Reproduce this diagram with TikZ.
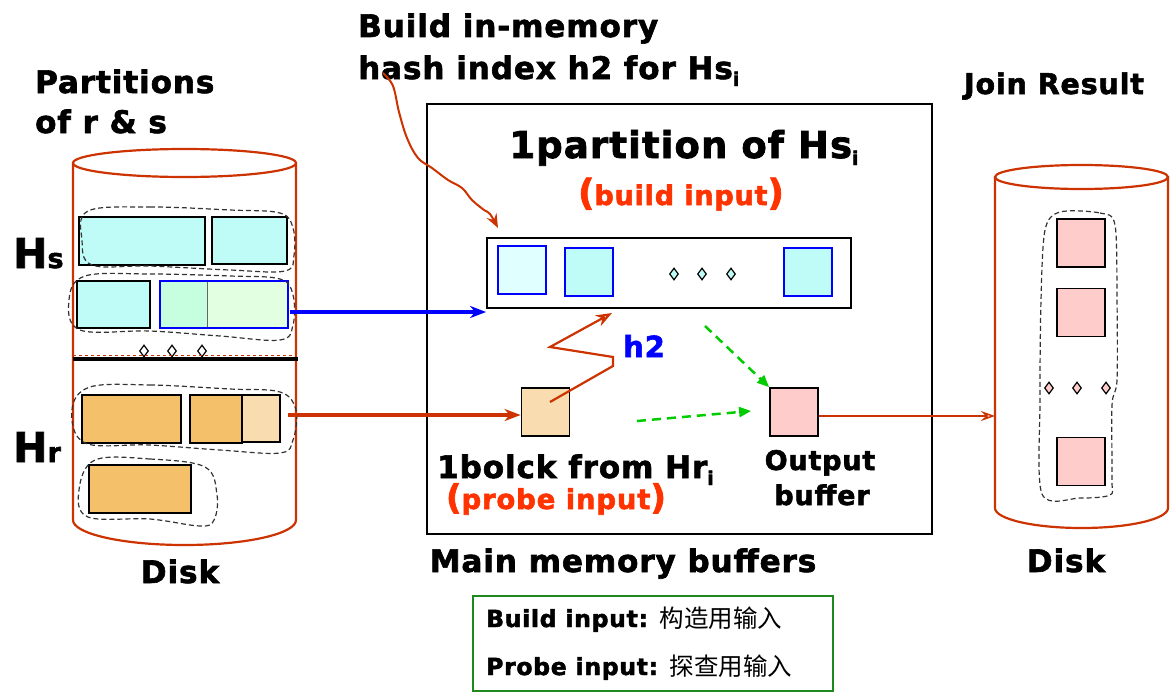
\documentclass[tikz,border=0pt]{standalone}
\usepackage{fontspec}
\setmainfont{DejaVu Sans}
\newfontfamily\tf{DejaVu Sans Bold}[LetterSpace=3,FakeBold=2]
\newfontfamily\cjk{Noto Sans CJK SC}
\usetikzlibrary{arrows.meta,shapes.geometric}
\newcommand\fsz[1]{\fontsize{#1}{#1}\selectfont}
\definecolor{cy}{HTML}{BFFCF7}
\definecolor{lcy}{HTML}{E0FFFF}
\definecolor{gA}{HTML}{C5FFE0}
\definecolor{gB}{HTML}{E2FFE2}
\definecolor{orA}{HTML}{F4C06A}
\definecolor{orB}{HTML}{F9DDB1}
\definecolor{pk}{HTML}{FFCCCC}
\definecolor{rtxt}{HTML}{FF3300}
\definecolor{rline}{HTML}{CC3300}
\definecolor{grn}{HTML}{00CC00}
\definecolor{lgd}{HTML}{1E8A1E}
\begin{document}
\begin{tikzpicture}[x=1pt,y=-1pt,
  box/.style={draw=black,line width=1.8pt,inner sep=0pt},
  bbox/.style={draw=blue,line width=1.8pt,inner sep=0pt},
  dia/.style={draw=black,line width=1.2pt,diamond,inner sep=0pt,minimum width=9pt,minimum height=12pt},
  cyl/.style={draw=rline,line width=2.2pt},
  blob/.style={draw=black!80,dash pattern=on 5pt off 3pt,line width=1.2pt},
  txt/.style={inner sep=0pt,font=\tf\fsz{31}},
  redtxt/.style={inner sep=0pt,font=\tf\fsz{27},text=rtxt},
  oarrow/.style={-{Stealth[open,length=16pt,width=12pt,inset=5pt]}},
]
\useasboundingbox (0,0) rectangle (1172,693);

% ---------------- left disk ----------------
\draw[cyl] (184.5,163) ellipse[x radius=111.5,y radius=14];
\draw[cyl] (73,163) -- (73,520) arc[start angle=180,end angle=0,x radius=111.5,y radius=25] -- (296,163);

\node[box,fill=cy,minimum width=126pt,minimum height=48pt] (hs1a) at (142,241) {};
\node[box,fill=cy,minimum width=75pt,minimum height=47pt] (hs1b) at (249.5,240.5) {};
\node[box,fill=cy,minimum width=73pt,minimum height=47pt] (hs2a) at (113.5,304.5) {};
\node[draw=black!60,line width=1pt,inner sep=0pt,fill=gA,minimum width=47pt,minimum height=47pt] (hs2bl) at (183.5,304.5) {};
\node[draw=black!60,line width=1pt,inner sep=0pt,fill=gB,minimum width=81pt,minimum height=47pt] (hs2br) at (247.5,304.5) {};
\node[bbox,minimum width=128pt,minimum height=47pt] (hs2b) at (224,304.5) {};

\draw[blob] plot[smooth cycle,tension=0.6] coordinates {(88,211) (150,207) (230,210) (280,213) (293,228) (294,255) (285,271) (230,270) (150,266) (92,265) (82,240)};
\draw[blob] plot[smooth cycle,tension=0.6] coordinates {(85,276) (150,274) (230,276) (280,279) (293,295) (293,325) (280,340) (220,336) (150,331) (80,330) (69,300)};

\node[dia,fill=white] (ld1) at (144,351) {};
\node[dia,fill=white] (ld2) at (172,351) {};
\node[dia,fill=white] (ld3) at (202,351) {};
\draw[rline,dashed,line width=0.7pt] (73,355) -- (297,355);
\draw[black,line width=4pt] (73,359) -- (298,359);

\node[box,fill=orA,minimum width=99pt,minimum height=48pt] (hr1a) at (131.5,419) {};
\node[box,fill=orA,minimum width=52pt,minimum height=48pt] (hr1b) at (216,419) {};
\node[box,fill=orB,minimum width=38pt,minimum height=47pt] (hr1c) at (261,418.5) {};
\node[box,fill=orA,minimum width=102pt,minimum height=48pt] (hr2) at (140,489) {};

\draw[blob] plot[smooth cycle,tension=0.6] coordinates {(90,387) (150,385) (230,389) (280,392) (296,410) (293,440) (280,453) (220,450) (150,445) (85,443) (72,410)};
\draw[blob] plot[smooth cycle,tension=0.6] coordinates {(95,460) (150,459) (205,467) (217,495) (214,520) (200,526) (150,519) (88,517) (79,490)};

\node[txt,anchor=base west] (part1) at (35,93) {Partitions};
\node[txt,anchor=base west] (part2) at (35,133) {of r \& s};
\node[inner sep=0pt,anchor=base west,font=\tf] (hslbl) at (13,268) {\fsz{41}H\fsz{27}s};
\node[inner sep=0pt,anchor=base west,font=\tf] (hrlbl) at (13,462) {\fsz{41}H\fsz{27}r};
\node[txt,anchor=base] (disk1) at (180,583) {Disk};

% ---------------- main memory ----------------
\node[box,minimum width=505pt,minimum height=430pt] (mm) at (679.5,319) {};
\node[inner sep=0pt,anchor=base,font=\tf\fsz{37}] (pt) at (684,158) {1partition of Hs\raisebox{-7pt}{\fsz{19}i}};
\node[redtxt,anchor=base] (bi) at (681,205) {\fsz{36}(\fsz{27}build input\fsz{36})};

\node[box,minimum width=364pt,minimum height=70pt] (ht) at (669,273) {};
\node[bbox,fill=lcy,minimum width=48pt,minimum height=48pt] (hb1) at (522,270) {};
\node[bbox,fill=cy,minimum width=48pt,minimum height=48pt] (hb2) at (589,272) {};
\node[bbox,fill=cy,minimum width=48pt,minimum height=48pt] (hb3) at (808,272) {};
\node[dia,fill=cy] (md1) at (674,274) {};
\node[dia,fill=cy] (md2) at (702,274) {};
\node[dia,fill=cy] (md3) at (731,274) {};

\node[box,fill=orB,minimum width=48pt,minimum height=48pt] (probe) at (545.5,412) {};
\node[box,fill=pk,minimum width=48pt,minimum height=48pt] (outb) at (794,412) {};

\node[inner sep=0pt,anchor=base west,font=\tf\fsz{29},text=blue] (h2) at (623,357) {h2};
\node[txt,anchor=base west] (blk) at (437,478) {1bolck from Hr\raisebox{-7pt}{\fsz{19}i}};
\node[redtxt,anchor=base] (pi) at (556,509) {\fsz{34}(\fsz{27.5}probe input\fsz{34})};
\node[inner sep=0pt,anchor=base,font=\tf\fsz{27}] (ob1) at (820,470) {Output};
\node[inner sep=0pt,anchor=base,font=\tf\fsz{27}] (ob2) at (822,505) {buffer};
\node[txt,anchor=base] (mmb) at (623,572) {Main memory buffers};

\node[txt,anchor=base west] (bim1) at (358,37) {Build in-memory};
\node[txt,anchor=base west] (bim2) at (358,79) {hash index h2 for Hs\raisebox{-7pt}{\fsz{19}i}};

% ---------------- right disk ----------------
\draw[cyl] (1081.5,177) ellipse[x radius=86.5,y radius=12];
\draw[cyl] (995,177) -- (995,508) arc[start angle=180,end angle=0,x radius=86.5,y radius=20] -- (1168,177);
\node[box,fill=pk,minimum width=48pt,minimum height=48pt] (r1) at (1081,243) {};
\node[box,fill=pk,minimum width=48pt,minimum height=48pt] (r2) at (1081,312.5) {};
\node[box,fill=pk,minimum width=48pt,minimum height=48pt] (r3) at (1081,461.5) {};
\node[dia,fill=pk] (rd1) at (1049,388) {};
\node[dia,fill=pk] (rd2) at (1077,388) {};
\node[dia,fill=pk] (rd3) at (1106,388) {};
\draw[blob] plot[smooth cycle,tension=0.5] coordinates {(1060,212) (1100,213) (1115,225) (1117,300) (1117,380) (1112,405) (1112,480) (1110,495) (1080,498) (1042,494) (1040,400) (1041,300) (1045,230)};
\node[inner sep=0pt,anchor=base,font=\tf\fsz{28.5}] (jr) at (1054,94) {Join Result};
\node[txt,anchor=base] (disk2) at (1066,572) {Disk};

% ---------------- legend ----------------
\node[draw=lgd,line width=2.2pt,minimum width=360pt,minimum height=95pt,inner sep=0pt] (lg) at (653,643.5) {};
\node[inner sep=0pt,anchor=base west] (lg1) at (486,627) {\tf\fsz{23.5}Build input: \cjk\fsz{24.5}构造用输入};
\node[inner sep=0pt,anchor=base west] (lg2) at (486,675) {\tf\fsz{23.5}Probe input: \cjk\fsz{24.5}探查用输入};

% ---------------- connectors ----------------
\coordinate (bs) at (290,312);
\draw[blue,line width=3.5pt,oarrow] (bs) -- (ht.west |- bs);
\coordinate (rs) at (288,415);
\draw[rline,line width=3.5pt,oarrow] (rs) -- (probe.west |- rs);

\coordinate (z1) at (550,402);
\coordinate (z2) at (613,366);
\coordinate (z3) at (613,357);
\coordinate (z4) at (550,347);
\coordinate (z5) at (612,313);
\draw[rline,line width=2.2pt,oarrow] (z1) -- (z2) -- (z3) -- (z4) -- (z5);

\coordinate (g1) at (705,326);
\coordinate (g2) at (637,421);
\draw[grn,dash pattern=on 9pt off 6pt,line width=2.5pt,-{Triangle[length=12pt,width=10pt]}] (g1) -- (outb.north west);
\draw[grn,dash pattern=on 9pt off 6pt,line width=2.5pt,-{Triangle[length=12pt,width=10pt]}] (g2) -- ([xshift=-18pt,yshift=1pt]outb.west);

\coordinate (ro) at (995,416);
\draw[rline,line width=1.5pt,-{Stealth[open,length=14pt,width=10pt,inset=5pt]}] (outb.east |- ro) -- (ro);

\coordinate (cs) at (383,73);
\coordinate (ce) at (498,228);
\draw[rline,line width=2pt,-{Stealth[open,length=14pt,width=11pt,inset=5pt]}] plot[smooth,tension=0.6] coordinates {(cs) (393,86) (399,112) (407,138) (418,158) (432,168) (448,180) (462,188) (472,200) (484,210) (490,214) (ce)};
\end{tikzpicture}
\end{document}
